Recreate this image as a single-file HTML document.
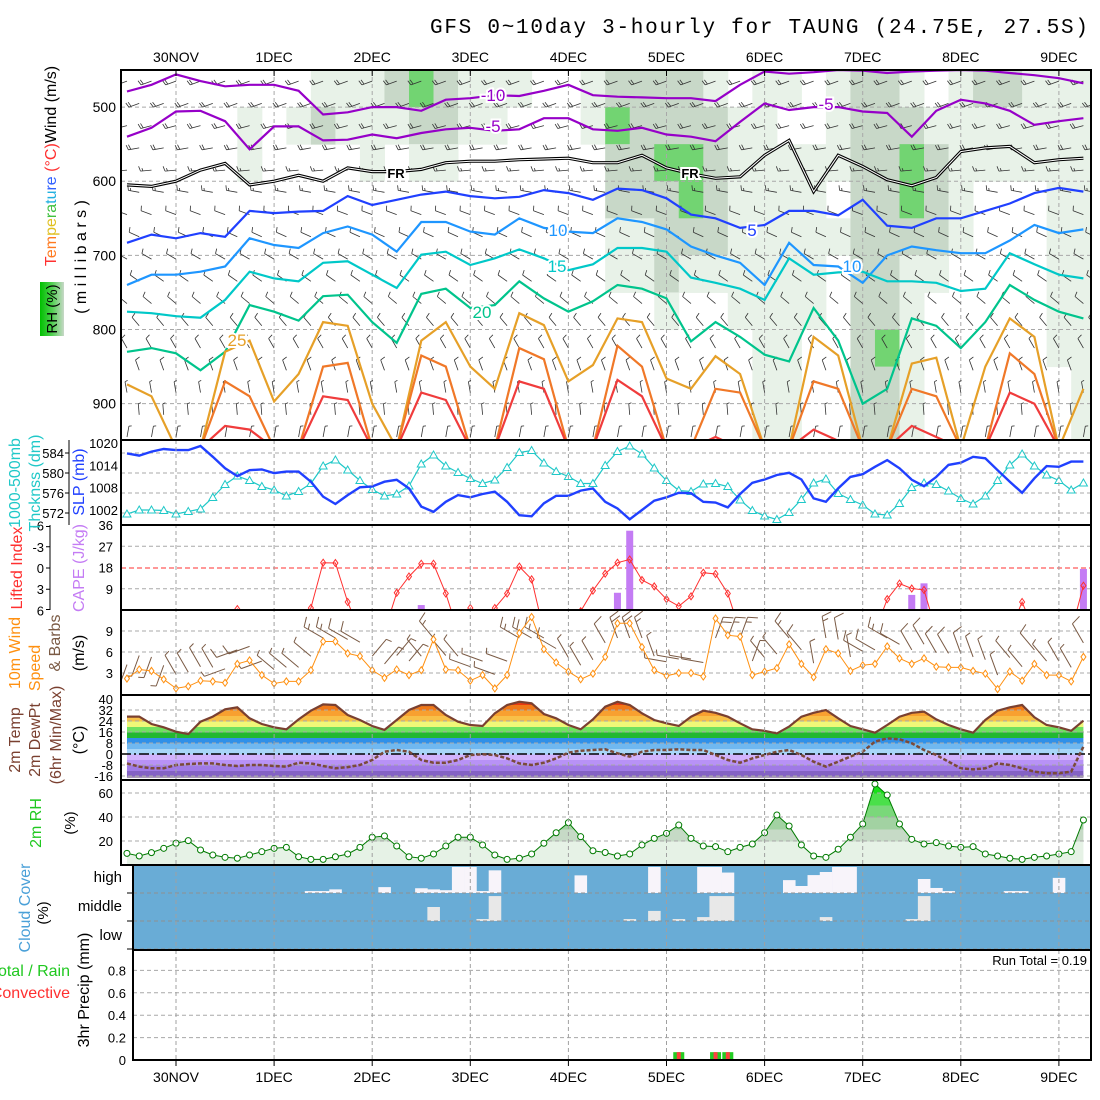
<!DOCTYPE html>
<html><head><meta charset="utf-8">
<style>
body{margin:0;background:#fff}
svg{display:block;font-family:"Liberation Sans",sans-serif}
</style></head>
<body>
<svg id="c" width="1100" height="1100" viewBox="0 0 1100 1100"></svg>
<script>
// ---------- DATA ----------
const dayLabels = ['30NOV','1DEC','2DEC','3DEC','4DEC','5DEC','6DEC','7DEC','8DEC','9DEC'];
const thickness = [571.8,572.6,572.6,572.5,571.8,572.3,572.8,575.1,577.7,579.4,
578.5,577.3,576.6,575.4,576.3,577.9,581.4,582.6,580.6,578.5,
576.7,575.4,575.8,577.4,581.8,583.6,581.4,580.1,578.9,577.9,
578.6,581.1,584.1,584.5,582.0,580.3,579.3,577.9,577.9,581.5,
584.3,585.4,583.8,581.0,578.5,576.5,576.3,577.8,577.9,577.3,
574.6,572.5,571.4,570.7,572.1,574.7,578.0,578.8,575.9,574.7,
573.6,571.8,571.6,573.9,577.1,578.0,577.7,576.4,574.9,573.8,
575.4,578.5,581.6,583.8,581.4,579.6,578.5,576.6,578.0];
const slp = [1017.2,1016.6,1017.7,1018.4,1018.1,1018.1,1019.2,1016.3,1013.2,1011.1,
1012.7,1012.9,1011.9,1012.3,1012.3,1009.6,1005.6,1003.6,1006.0,1008.1,
1008.3,1009.6,1010.1,1007.8,1002.9,1001.5,1004.2,1006.0,1005.4,1006.3,
1006.9,1004.2,1000.6,1000.3,1003.8,1005.8,1005.8,1007.2,1007.8,1004.2,
1002.4,999.5,1002.0,1004.5,1005.4,1006.6,1006.5,1004.2,1004.0,1002.7,
1006.3,1009.3,1010.2,1011.4,1012.0,1010.2,1005.1,1004.2,1007.8,1010.9,
1011.6,1013.6,1015.4,1013.2,1010.1,1008.4,1010.9,1014.1,1014.7,1016.3,
1015.9,1012.7,1009.6,1006.6,1010.5,1013.8,1013.6,1015.0,1015.0];
const liftedIndex = [9,9,9,9,9,9,9,9,9,5.8,
9,9,9,9,9,5.65,-0.75,-0.7,4.8,9,
9,9,3.5,1.2,-0.6,-0.6,3.6,9,5.65,9,
5.65,3.6,-0.2,1.6,9,9,9,6.1,3.2,0.8,
-0.75,-1.2,1.7,2.6,4.4,5.4,4.0,0.66,0.85,3.6,
9,9,9,9,9,9,9,9,9,9,
9,9,4.4,2.2,2.9,3.1,9,9,9,9,
9,9,9,4.8,9,9,9,9,2.5];
const cape = [0,0,0,0,0,0,0,0,0,0,
0,0,0,0,0,0,0,0,0,0,
0,0,0,0,2.1,0,0,0,0,0,
0,0,0,0,0,0,0,0,0,0,
7.3,33.6,0,0,0,0,0,0,0,0,
0,0,0,0,0,0,0,0,0,0,
0,0,0,0,6.4,11.3,0,0,0,0,
0,0,0,0,0,0,0,0,17.4];
const windSpeed = [2.2,3.5,3.3,2.1,0.8,1.1,1.9,1.8,1.6,4.3,
4.8,2.7,1.5,1.8,1.8,3.4,7.5,7.5,5.8,5.4,
3.4,2.3,3.5,2.7,3.4,7.8,3.5,3.4,1.9,2.7,
0.8,2.7,8.7,11.0,6.4,4.5,3.2,2.1,2.9,5.3,
10.1,10.1,6.7,3.4,2.6,3.0,3.0,2.5,10.8,8.4,
8.2,2.7,3.2,3.7,7.1,4.3,2.4,6.4,5.8,3.3,
4.1,4.3,6.8,5.1,4.3,5.1,3.9,3.8,3.8,3.3,
2.9,0.7,3.2,1.9,4.3,2.7,2.7,1.8,5.3];
const windDir12h = [200,330,250,310,300,40,320,290,300,330,340,280,20,320,350,300,330,340,320,330];
const temp2m = [27.2,27.2,21.8,19.4,16.2,14.5,23.5,27.2,32.5,34.0,
26.0,21.8,19.4,18.0,25.2,31.5,36.1,35.6,28.4,24.7,
20.4,17.5,24.7,32.0,35.6,35.6,28.4,23.5,21.1,20.4,
29.6,35.6,38.0,36.9,29.1,26.0,21.1,18.0,25.2,34.4,
38.0,35.6,29.6,24.7,22.3,20.4,27.1,31.5,30.0,27.1,
22.3,18.0,16.9,15.0,19.9,27.1,30.0,32.0,26.0,20.4,
18.0,15.5,21.1,27.1,30.0,30.8,25.2,21.1,18.0,15.5,
24.7,31.5,34.0,35.6,26.7,21.1,19.4,16.9,24.2];
const dewpt2m = [-6.8,-9.2,-10.4,-10.4,-8.0,-7.3,-6.8,-6.8,-8.0,-8.7,
-8.0,-8.0,-8.7,-9.2,-6.3,-6.8,-8.7,-10.4,-9.5,-8.0,
-4.4,1.7,2.9,1.7,-4.4,-6.3,-6.3,-4.4,-0.7,-0.2,
-0.7,-3.2,-6.8,-8.0,-6.3,-3.2,1.0,2.4,2.9,3.4,
0.5,-1.9,1.7,2.9,2.9,3.4,2.9,2.9,-0.7,-4.4,
-6.3,-3.2,-0.7,1.7,2.9,-0.7,-5.6,-9.2,-5.6,-1.9,
1.7,9.0,11.4,10.7,7.8,2.9,-0.7,-5.6,-10.4,-11.2,
-10.4,-6.8,-8.0,-10.4,-12.8,-14.0,-14.0,-12.8,5.3];
const rh2m = [9.7,7.5,10.3,13.9,18.1,20.3,12.5,8.3,6.4,5.6,
8.3,11.1,13.9,14.7,6.9,4.7,4.7,6.9,9.2,14.7,
23.1,24.2,15.8,6.9,5.6,9.2,15.8,23.1,23.1,16.7,
8.3,4.7,5.6,9.2,18.1,26.9,35.3,23.6,11.9,10.4,
7.5,9.2,16.7,22.2,26.4,33.3,22.2,15.8,15.3,11.1,
14.7,17.5,26.9,41.7,32.5,16.7,7.5,6.4,13.1,23.1,
34.2,67.5,58.3,34.2,21.4,17.5,18.6,15.8,14.7,15.3,
9.2,7.5,5.6,4.7,6.4,7.5,9.2,11.1,37.5];
const cloudHigh = [0,0,0,0,0,0,0,0,0,0,
0,0,0,0,0,7,7,13,0,0,
0,21,0,0,17,13,10,93,93,7,
81,0,0,0,0,0,0,63,0,0,
0,0,0,93,0,0,0,93,93,73,
0,0,0,0,46,25,64,75,93,93,
0,0,0,0,0,50,18,7,0,0,
0,0,7,7,0,0,54,0,0];
const cloudMid = [0,0,0,0,0,0,0,0,0,0,
0,0,0,0,0,0,0,0,0,0,
0,0,0,0,0,50,0,0,0,7,
89,0,0,0,0,0,0,0,0,0,
0,7,0,36,0,7,0,14,89,89,
0,0,0,0,0,0,0,14,0,0,
0,0,0,0,7,89,0,0,0,0,
0,0,0,0,0,0,0,0,0];
const cloudLow = [0,0,0,0,0,0,0,0,0,0,
0,0,0,0,0,0,0,0,0,0,
0,0,0,0,0,0,0,0,0,0,
0,0,0,0,0,0,0,0,0,0,
0,0,0,0,0,0,0,0,0,0,
0,0,0,0,0,0,0,0,0,0,
0,0,0,0,0,0,0,0,0,0,
0,0,0,0,0,0,0,0,0];
const precipTotal = [0,0,0,0,0,0,0,0,0,0,
0,0,0,0,0,0,0,0,0,0,
0,0,0,0,0,0,0,0,0,0,
0,0,0,0,0,0,0,0,0,0,
0,0,0,0,0,0.07,0,0,0.07,0.07,
0,0,0,0,0,0,0,0,0,0,
0,0,0,0,0,0,0,0,0,0,
0,0,0,0,0,0,0,0,0];
const precipConv = [0,0,0,0,0,0,0,0,0,0,
0,0,0,0,0,0,0,0,0,0,
0,0,0,0,0,0,0,0,0,0,
0,0,0,0,0,0,0,0,0,0,
0,0,0,0,0,0.07,0,0,0.07,0.07,
0,0,0,0,0,0,0,0,0,0,
0,0,0,0,0,0,0,0,0,0,
0,0,0,0,0,0,0,0,0];
const isoM10 = [479,470,456,465,472,470,470,478,510,507,500,500,505,490,488,484,485,478,470,484,486,487,488,488,492,470,452,455,453,450,451,454,452,451,450,451,454,457,461,468];
const isoM5 = [540,528,506,505,519,557,526,526,545,544,537,542,535,530,528,532,530,515,515,530,532,528,537,540,546,520,495,504,500,500,506,508,540,505,490,495,505,524,519,515];
const iso0 = [605,607,600,585,576,605,600,592,600,582,587,587,584,575,573,573,571,570,569,575,575,565,582,590,596,594,565,545,614,565,580,598,606,595,560,555,553,575,571,569];
const iso5 = [683,672,677,670,675,640,643,641,640,620,632,625,618,614,620,623,621,612,616,625,610,612,623,645,650,663,659,640,640,646,625,660,663,650,650,640,630,616,609,614];
const iso10 = [740,726,726,722,715,677,686,690,670,661,672,695,655,655,668,672,650,663,668,670,650,655,665,688,700,710,740,683,713,715,737,700,688,693,697,697,680,659,670,665];
const iso15 = [776,778,782,784,760,722,731,735,710,708,726,744,699,695,713,704,692,704,720,712,690,690,695,730,737,745,760,704,726,723,722,735,735,737,748,745,697,712,726,731];
const iso20 = [830,825,832,855,830,767,776,788,755,753,790,818,752,745,771,767,735,758,776,762,740,745,758,816,790,810,834,843,771,815,900,880,785,795,825,790,740,760,776,785];
const iso25 = [874,890,960,960,830,815,897,860,790,795,900,960,815,790,850,880,778,794,870,848,785,790,866,880,836,860,960,960,810,835,960,960,846,838,960,850,785,810,960,880];
const iso30 = [960,960,960,960,870,890,960,960,850,845,960,960,835,850,960,960,825,840,960,960,822,850,960,960,880,885,960,960,870,880,960,960,880,890,960,960,832,860,960,960];
const iso35 = [960,960,960,960,930,935,960,960,890,895,960,960,885,895,960,960,870,880,960,960,868,890,960,960,945,960,960,960,935,950,960,960,930,945,960,960,885,900,960,960];
const rhRows = [
"0000000011123211100122221011012210122111",
"0000010121112211000132222110012221111111",
"0000010000101100000022332111112232111111",
"0000000000000000000022232111102232100011",
"0000000000000000000011222111112222100011",
"0000000000000000000011211111102211000011",
"0000000000000000000000100111102210000011",
"0000000000000000000000000011002310000011",
"0000000000000000000000000011002210000001",
"0000000000000000000000000011002210000001"];
const barbLevels = [465,495,525,555,585,615,645,675,705,735,765,795,825,855,885,915,945];
const barbDirs = [250,250,255,260,265,280,290,295,300,305,310,320,330,340,350,355,10];
const barbSpeeds = [22,20,20,18,16,14,12,12,10,10,10,8,8,8,6,6,6];

// ---------- HELPERS ----------
const NS='http://www.w3.org/2000/svg';
const svg=document.getElementById('c');
function mk(tag,attrs,parent){const e=document.createElementNS(NS,tag);for(const k in attrs)e.setAttribute(k,attrs[k]);(parent||svg).appendChild(e);return e;}
function tx(str,attrs,parent){const e=mk('text',attrs,parent);e.textContent=str;return e;}
const X = d => 176 + 98.1*d;
const tI = i => -0.5 + 0.125*i;
const t6 = k => -0.5 + 0.25*k;
const Y1 = p => 70 + (p-450)*0.7415;
const Ythk = v => 453 + (584-v)*5;
const Yslp = v => 443 + (1020-v)*3.72;
const Ycape = v => 610 - v*2.36;
const Yli = v => 568 + v*7.08;
const Yws = v => 694 - v*7;
const Yt = v => 754 - v*1.375;
const Yrh = v => 865 - v*1.2;
const Yp = v => 1060 - v*112;
function pathOf(arr,tf,yf){return arr.map((v,i)=>(i?'L':'M')+X(tf(i)).toFixed(1)+','+yf(v).toFixed(1)).join('');}
const GRID='#a8a8a8';

const defs=mk('defs',{});
function clip(id,x,y,w,h){const c=mk('clipPath',{id:id},defs);mk('rect',{x:x,y:y,width:w,height:h},c);}
clip('cp1',121,70,970,370);clip('cp2',121,440,970,85);clip('cp3',121,525,970,85);
clip('cp4',121,610,970,85);clip('cp5',121,695,970,85);clip('cp6',121,780,970,85);
clip('cpCloud',133,865,958,85);clip('cpPrec',133,950,958,110);

const title=tx('GFS 0~10day 3-hourly for TAUNG (24.75E, 27.5S)',{x:430,y:33,'font-family':'Liberation Mono, monospace','font-size':21,textLength:658,fill:'#000'});



dayLabels.forEach((lab,d)=>{
  const a=tx(lab,{x:X(d),y:62,'text-anchor':'middle','font-size':14});
  
  
  const b=tx(lab,{x:X(d),y:1082,'text-anchor':'middle','font-size':14});
  
  
});

// ---------- PANEL 1 ----------
const g1=mk('g',{'clip-path':'url(#cp1)'});


const rhCol={'1':'#e8f2e8','2':'#c8d8c8','3':'#72d472','4':'#20e020'};
rhRows.forEach((row,r)=>{
  for(let k=0;k<40;k++){const c=row[k];if(c==='0')continue;
    const d=t6(k);
    const cell=mk('rect',{x:X(d-0.125),y:Y1(450+50*r),width:X(0.25)-X(0)+0.5,height:Y1(500)-Y1(450)+0.5,fill:rhCol[c]},g1);
    
    
  }
});
[500,600,700,800,900].forEach(p=>{const l=mk('line',{x1:121,x2:1091,y1:Y1(p),y2:Y1(p),stroke:GRID,'stroke-dasharray':'4,3'},g1);

});
for(let d=0;d<10;d++){const l=mk('line',{x1:X(d),x2:X(d),y1:70,y2:440,stroke:GRID,'stroke-dasharray':'4,3'},g1);

}
function barb(x,y,dir,spd,len,col,parent,w){
  const a=dir*Math.PI/180, sx=Math.sin(a), sy=-Math.cos(a);
  const ex=x+len*sx, ey=y+len*sy;
  let d='M'+x.toFixed(1)+','+y.toFixed(1)+'L'+ex.toFixed(1)+','+ey.toFixed(1);
  const px=-sy, py=sx; let n=Math.max(1,Math.round(spd/5)); let pos=0;
  while(n>0){const bl=n>=2?len*0.45:len*0.25;const bx=ex-sx*pos, by=ey-sy*pos;
    d+='M'+bx.toFixed(1)+','+by.toFixed(1)+'L'+(bx+px*bl+sx*bl*0.3).toFixed(1)+','+(by+py*bl+sy*bl*0.3).toFixed(1);
    n-=2;pos+=len*0.22;}
  return mk('path',{d:d,stroke:col,'stroke-width':w||1,fill:'none'},parent);
}
barbLevels.forEach((p,r)=>{
  for(let k=0;k<40;k++){const d=t6(k)+(r%2?0.125:0);
    const b=barb(X(d),Y1(p),barbDirs[r],barbSpeeds[r],11,'#333',g1,0.8);
    
    }
});
const isos=[[isoM10,'#9600c8','isotherm-minus10'],[isoM5,'#9600c8','isotherm-minus5'],[iso5,'#2040ff','isotherm-5'],[iso10,'#1e96ff','isotherm-10'],[iso15,'#00c8c8','isotherm-15'],[iso20,'#00c48c','isotherm-20'],[iso25,'#e6a028','isotherm-25'],[iso30,'#f07828','isotherm-30'],[iso35,'#f03c3c','isotherm-35']];
isos.forEach(([arr,col,nm])=>{const l=mk('path',{d:pathOf(arr,t6,Y1),stroke:col,'stroke-width':2.2,fill:'none'},g1);

});
const fr1=mk('path',{d:pathOf(iso0,t6,Y1),stroke:'#000','stroke-width':3.2,fill:'none'},g1);


const fr2=mk('path',{d:pathOf(iso0,t6,Y1),stroke:'#fff','stroke-width':1,fill:'none'},g1);


[['-10',493,101,'#9600c8'],['-5',493,132,'#9600c8'],['-5',826,110,'#9600c8'],['FR',396,178,'#000'],['FR',690,178,'#000'],['10',558,236,'#1e96ff'],['5',752,236,'#2040ff'],['15',557,272,'#00c8c8'],['10',852,272,'#1e96ff'],['20',482,318,'#00c48c'],['25',237,346,'#e6a028']].forEach(([s,x,y,c])=>{
  const t=tx(s,{x:x,y:y,'text-anchor':'middle','font-size':s==='FR'?13:17,'font-weight':s==='FR'?'bold':'normal',fill:c,stroke:'#fff','stroke-width':4,'paint-order':'stroke'},g1);
  
  
});

// ---------- PANEL 2 ----------
const g2=mk('g',{'clip-path':'url(#cp2)'});


[584,580,576,572].forEach(v=>{const l=mk('line',{x1:121,x2:1091,y1:Ythk(v),y2:Ythk(v),stroke:GRID,'stroke-dasharray':'4,3'},g2);

});
const thkLine=mk('path',{d:pathOf(thickness,tI,Ythk),stroke:'#20c8c8','stroke-width':1.2,fill:'none'},g2);


thickness.forEach((v,i)=>{const x=X(tI(i)),y=Ythk(v);
  const m=mk('path',{d:`M${x},${y-4}L${x+4},${y+3}L${x-4},${y+3}Z`,fill:'#fff',stroke:'#20c8c8','stroke-width':1},g2);
  
  });
const slpLine=mk('path',{d:pathOf(slp,tI,Yslp),stroke:'#2040ff','stroke-width':2.4,fill:'none'},g2);



// ---------- PANEL 3 ----------
const g3=mk('g',{'clip-path':'url(#cp3)'});


[27,9].forEach(v=>{const l=mk('line',{x1:121,x2:1091,y1:Ycape(v),y2:Ycape(v),stroke:GRID,'stroke-dasharray':'4,3'},g3);

});
const zl=mk('line',{x1:121,x2:1091,y1:Yli(0),y2:Yli(0),stroke:'#ff3030','stroke-dasharray':'5,3'},g3);


cape.forEach((v,i)=>{if(v<=0)return;const x=X(tI(i));
  const b=mk('rect',{x:x-3.5,y:Ycape(v),width:7,height:610-Ycape(v),fill:'#c47cf4'},g3);
  
  });
const liLine=mk('path',{d:pathOf(liftedIndex,tI,Yli),stroke:'#ff3030','stroke-width':1,fill:'none'},g3);


liftedIndex.forEach((v,i)=>{if(v>6.5)return;const x=X(tI(i)),y=Yli(v);
  const m=mk('path',{d:`M${x},${y-3.5}L${x+2.5},${y}L${x},${y+3.5}L${x-2.5},${y}Z`,fill:'none',stroke:'#ff3030'},g3);
  
  });

// ---------- PANEL 4 ----------
const g4=mk('g',{'clip-path':'url(#cp4)'});


[9,6,3].forEach(v=>{const l=mk('line',{x1:121,x2:1091,y1:Yws(v),y2:Yws(v),stroke:GRID,'stroke-dasharray':'4,3'},g4);

});
windSpeed.forEach((v,i)=>{
  const b=barb(X(tI(i)),Yws(Math.min(v,6)+2),windDir12h[Math.floor(i/4)],v*2,22,'#7a5a44',g4,1);
  
  });
const wsLine=mk('path',{d:pathOf(windSpeed,tI,Yws),stroke:'#ff9010','stroke-width':1,fill:'none'},g4);


windSpeed.forEach((v,i)=>{const x=X(tI(i)),y=Yws(v);
  const m=mk('path',{d:`M${x},${y-3.5}L${x+2.5},${y}L${x},${y+3.5}L${x-2.5},${y}Z`,fill:'#fff',stroke:'#ff9010'},g4);
  
  });

// ---------- PANEL 5 ----------
const g5=mk('g',{'clip-path':'url(#cp5)'});


const tcp=mk('clipPath',{id:'tclip'},defs);
mk('path',{d:pathOf(temp2m,tI,Yt)+`L${X(tI(78))},778L${X(tI(0))},778Z`},tcp);
const tBounds=[-18,-16,-12,-8,-4,0,4,8,12,16,20,24,28,32,36,40];
const tColors=['#a898b8','#8462c4','#a07ae6','#b892f6','#d2b2fc','#a8d6f8','#70b8f0','#3090e8','#22b830','#70e060','#f0f878','#f8c048','#f8a030','#f07818','#e83a10'];
const tg=mk('g',{'clip-path':'url(#tclip)'},g5);
tColors.forEach((c,k)=>{const r=mk('rect',{x:121,y:Yt(tBounds[k+1]),width:970,height:Yt(tBounds[k])-Yt(tBounds[k+1])+0.5,fill:c},tg);

});
[32,24,16,8,-8,-16].forEach(v=>{const l=mk('line',{x1:121,x2:1091,y1:Yt(v),y2:Yt(v),stroke:GRID,'stroke-dasharray':'4,3'},g5);

});
const z0=mk('line',{x1:121,x2:1091,y1:Yt(0),y2:Yt(0),stroke:'#000','stroke-width':1.5,'stroke-dasharray':'10,3,2,3'},g5);


const tLine=mk('path',{d:pathOf(temp2m,tI,Yt),stroke:'#7a4030','stroke-width':2.2,fill:'none'},g5);


const dpLine=mk('path',{d:pathOf(dewpt2m,tI,Yt),stroke:'#7a4a3a','stroke-width':2.5,'stroke-dasharray':'4,2',fill:'none'},g5);



// ---------- PANEL 6 ----------
const g6=mk('g',{'clip-path':'url(#cp6)'});


const rcp=mk('clipPath',{id:'rclip'},defs);
mk('path',{d:pathOf(rh2m,tI,Yrh)+`L${X(tI(78))},865L${X(tI(0))},865Z`},rcp);
const rBounds=[0,20,30,40,50,60,80];
const rColors=['#e6f2e6','#c6dac6','#a2d2a2','#7ad87a','#4ae04a','#18e018'];
const rg=mk('g',{'clip-path':'url(#rclip)'},g6);
rColors.forEach((c,k)=>{const r=mk('rect',{x:121,y:Yrh(rBounds[k+1]),width:970,height:Yrh(rBounds[k])-Yrh(rBounds[k+1])+0.5,fill:c},rg);

});
[60,40,20].forEach(v=>{const l=mk('line',{x1:121,x2:1091,y1:Yrh(v),y2:Yrh(v),stroke:GRID,'stroke-dasharray':'4,3'},g6);

});
const rhLine=mk('path',{d:pathOf(rh2m,tI,Yrh),stroke:'#007a00','stroke-width':1,fill:'none'},g6);


rh2m.forEach((v,i)=>{const m=mk('circle',{cx:X(tI(i)),cy:Yrh(v),r:3,fill:'#fff',stroke:'#007a00'},g6);

});

// ---------- CLOUD ----------
const gc=mk('g',{'clip-path':'url(#cpCloud)'});


const cbg=mk('rect',{x:133,y:865,width:958,height:85,fill:'#69acd6'},gc);


const bw=X(0.125)-X(0);
[[cloudHigh,893,'#f8f4fa','cloud-high-bar'],[cloudMid,921,'#e8e8e8','cloud-mid-bar'],[cloudLow,949,'#e0e0e0','cloud-low-bar']].forEach(([arr,base,col,nm])=>{
  arr.forEach((v,i)=>{if(v<=0)return;const h=v/100*28;
    const b=mk('rect',{x:X(tI(i))-bw/2,y:base-h,width:bw+0.3,height:h,fill:col},gc);
    
    });
});
[893,921,949].forEach(y=>{const l=mk('line',{x1:133,x2:1091,y1:y,y2:y,stroke:'#909090','stroke-dasharray':'4,3'},gc);

});

// ---------- PRECIP ----------
const gp=mk('g',{'clip-path':'url(#cpPrec)'});


[0.8,0.6,0.4,0.2].forEach(v=>{const l=mk('line',{x1:133,x2:1091,y1:Yp(v),y2:Yp(v),stroke:GRID,'stroke-dasharray':'4,3'},gp);

});
precipTotal.forEach((v,i)=>{if(v<=0)return;const x=X(tI(i));
  const b=mk('rect',{x:x-5.5,y:Yp(v),width:11,height:1060-Yp(v),fill:'#22cc22'},gp);
  
  });
precipConv.forEach((v,i)=>{if(v<=0)return;const x=X(tI(i));
  const b=mk('rect',{x:x-2,y:Yp(v),width:4,height:1060-Yp(v),fill:'#ff4040'},gp);
  
  });
const rt=tx('Run Total = 0.19',{x:1087,y:965,'text-anchor':'end','font-size':13});



[[440,865],[865,950],[950,1060]].forEach(([y1,y2])=>{
  for(let d=0;d<10;d++){const l=mk('line',{x1:X(d),x2:X(d),y1:y1,y2:y2,stroke:'#a0a0a0','stroke-dasharray':'4,3'});
  
  }
});

// ---------- FRAMES ----------
[[121,70,970,370],[121,440,970,85],[121,525,970,85],[121,610,970,85],[121,695,970,85],[121,780,970,85],[133,865,958,85],[133,950,958,110]].forEach(([x,y,w,h])=>{
  const f=mk('rect',{x:x,y:y,width:w,height:h,fill:'none',stroke:'#000','stroke-width':2});
  
  });
for(let d=0;d<10;d++){[[70,76],[1060,1066]].forEach(([a,b])=>{const t=mk('line',{x1:X(d),x2:X(d),y1:a,y2:b,stroke:'#000'});

});}

// ---------- AXIS LABELS ----------
function lab(s,x,y,anchor,size,fill,nm){const t=tx(s,{x:x,y:y,'text-anchor':anchor,'font-size':size,fill:fill||'#000'});

return t;}
[500,600,700,800,900].forEach(p=>lab(String(p),116,Y1(p)+5,'end',14,'#000','pressure-tick-label'));
[584,580,576,572].forEach(v=>lab(String(v),64,Ythk(v)+5,'end',13,'#000','thickness-tick-label'));
[1020,1014,1008,1002].forEach(v=>lab(String(v),118,Yslp(v)+5,'end',13,'#000','slp-tick-label'));
[[-6,'-6'],[-3,'-3'],[0,'0'],[3,'3'],[6,'6']].forEach(([v,s])=>lab(s,44,Yli(v)+5,'end',13,'#000','li-tick-label'));
[36,27,18,9].forEach(v=>lab(String(v),113,Ycape(v)+5,'end',13,'#000','cape-tick-label'));
[9,6,3].forEach(v=>lab(String(v),113,Yws(v)+5,'end',13,'#000','wind-tick-label'));
[40,32,24,16,8,0,-8,-16].forEach(v=>lab(String(v),113,Yt(v)+5,'end',13,'#000','temperature-tick-label'));
[60,40,20].forEach(v=>lab(String(v),113,Yrh(v)+5,'end',13,'#000','rh-tick-label'));
[['high',882],['middle',911],['low',940]].forEach(([s,y])=>lab(s,122,y,'end',15,'#000','cloud-level-label'));
[[0.8,'0.8'],[0.6,'0.6'],[0.4,'0.4'],[0.2,'0.2'],[0,'0']].forEach(([v,s])=>lab(s,126,Yp(v)+5,'end',13,'#000','precip-tick-label'));
const ax1=mk('path',{d:'M69,440L69,525M65,453L69,453M65,473L69,473M65,493L69,493M65,513L69,513',stroke:'#000',fill:'none'});


const ax2=mk('path',{d:`M50,525L50,610M46,${Yli(-3)}L50,${Yli(-3)}M46,${Yli(0)}L50,${Yli(0)}M46,${Yli(3)}L50,${Yli(3)}M46,${Yli(-6)+1}L50,${Yli(-6)+1}M46,${Yli(6)-1}L50,${Yli(6)-1}`,stroke:'#000',fill:'none'});


const ax3=mk('path',{d:'M127,893L133,893M127,921L133,921M127,949L133,949',stroke:'#000'});



function rot(parts,x,y,size,nm,ls){const t=mk('text',{x:x,y:y,'text-anchor':'middle','font-size':size,transform:`rotate(-90 ${x} ${y})`,'letter-spacing':ls||0});
  parts.forEach(([s,c])=>{const sp=mk('tspan',{fill:c},t);sp.textContent=s;});
  
  return t;}
const gradDef=mk('linearGradient',{id:'rhg',x1:0,x2:1,y1:0,y2:0},defs);
mk('stop',{offset:0,'stop-color':'#00c000'},gradDef);mk('stop',{offset:0.5,'stop-color':'#50d050'},gradDef);mk('stop',{offset:1,'stop-color':'#c8d8c8'},gradDef);
const rhBox=mk('rect',{x:40,y:282,width:24,height:54,fill:'url(#rhg)'});


rot([['RH (%)','#000']],57,309,15,'rh-legend-label');
rot([['T','#ff3030'],['em','#ff7a20'],['pe','#e0c020'],['ra','#40c040'],['tu','#20b0e0'],['re','#3060ff'],[' (°C)','#ff3030'],['Wind (m/s)','#000']],56,166,16,'temperature-wind-axis-title');
rot([['( m i l l i b a r s )','#000']],86,257,16,'pressure-axis-title');
rot([['1000-500mb','#20c8c8']],20,483,16,'thickness-axis-title');
rot([['Thcknss (dm)','#20c8c8']],40,483,16,'thickness-axis-unit');
rot([['SLP (mb)','#2040ff']],84,482,16,'slp-axis-title');
rot([['Lifted Index','#ff3030']],22,568,16,'li-axis-title');
rot([['CAPE (J/kg)','#c47cf4']],84,568,16,'cape-axis-title');
rot([['10m Wind','#ff9010']],20,653,16,'wind-axis-title');
rot([['Speed','#ff9010']],40,668,16,'wind-speed-title');
rot([['& Barbs','#7a5a44']],60,643,16,'wind-barbs-title');
rot([['(m/s)','#000']],84,653,16,'wind-unit-title');
rot([['2m Temp','#7a4030']],20,740,16,'temp-axis-title');
rot([['2m DewPt','#7a4030']],40,740,16,'dewpoint-axis-title');
rot([['(6hr Min/Max)','#7a4030']],61,735,16,'minmax-axis-title');
rot([['(°C)','#000']],84,740,16,'temp-unit-title');
rot([['2m RH','#20c820']],41,823,16,'rh-axis-title');
rot([['(%)','#000']],75,823,15,'rh-unit-title');
rot([['Cloud Cover','#4aa0d8']],30,908,16,'cloud-axis-title');
rot([['(%)','#000']],48,913,15,'cloud-unit-title');
rot([['3hr Precip (mm)','#000']],89,990,16,'precip-axis-title');
lab('Total / Rain',70,976,'end',16,'#20c820','precip-total-legend');
lab('Convective',70,998,'end',16,'#ff3030','precip-convective-legend');
</script>
</body></html>
